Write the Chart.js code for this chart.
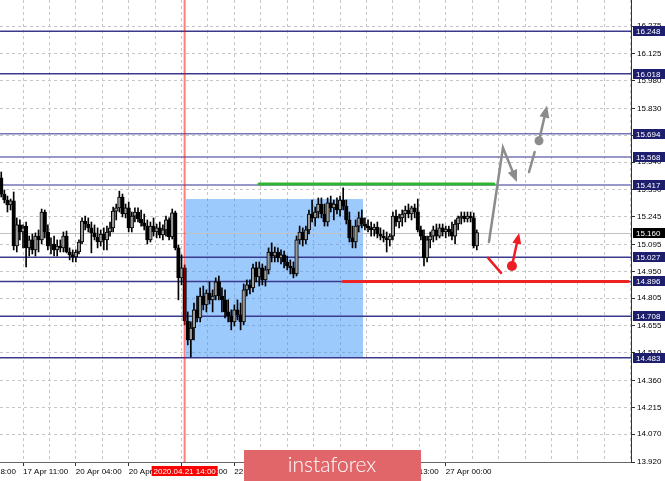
<!DOCTYPE html>
<html>
<head>
<meta charset="utf-8">
<script src="https://cdn.jsdelivr.net/npm/chart.js@4.4.1/dist/chart.umd.min.js"></script>
<style>
  html, body { margin: 0; padding: 0; background: #fff; }
  #wrap { width: 665px; height: 481px; }
</style>
</head>
<body>
<div id="wrap"><canvas id="priceChart" width="665" height="481"></canvas></div>
<script>
// H1 bars, bar 0 = 17 Apr 04:00
const open = [15.455,15.368,15.336,15.309,15.331,15.087,15.201,15.163,15.195,15.077,
  15.120,15.066,15.141,15.120,15.271,15.163,15.087,15.098,15.066,15.087,
  15.077,15.141,15.055,15.039,15.028,15.055,15.109,15.222,15.206,15.185,
  15.158,15.136,15.109,15.152,15.120,15.163,15.185,15.276,15.293,15.352,
  15.260,15.293,15.185,15.249,15.271,15.233,15.212,15.195,15.120,15.195,
  15.163,15.185,15.147,15.174,15.228,15.136,15.266,15.077,14.915,14.969,
  14.682,14.580,14.644,14.742,14.699,14.817,14.769,14.833,14.796,14.817,
  14.893,14.817,14.796,14.731,14.709,14.677,14.742,14.715,14.677,14.850,
  14.877,14.861,14.969,14.920,14.969,14.904,14.958,15.055,15.033,15.055,
  15.023,15.039,15.001,14.979,14.969,14.936,15.120,15.163,15.120,15.174,
  15.260,15.239,15.271,15.314,15.260,15.217,15.320,15.293,15.314,15.282,
  15.336,15.303,15.228,15.131,15.109,15.195,15.239,15.206,15.195,15.185,
  15.174,15.190,15.152,15.141,15.131,15.120,15.141,15.249,15.217,15.239,
  15.260,15.282,15.260,15.293,15.271,15.174,15.141,15.023,15.120,15.141,
  15.174,15.141,15.185,15.163,15.179,15.163,15.141,15.206,15.239,15.249,
  15.233,15.249,15.239,15.087];
const high = [15.487,15.390,15.357,15.341,15.379,15.239,15.228,15.201,15.217,15.141,
  15.152,15.158,15.174,15.287,15.282,15.201,15.131,15.141,15.120,15.120,
  15.163,15.168,15.077,15.066,15.066,15.120,15.239,15.249,15.239,15.217,
  15.201,15.185,15.174,15.185,15.195,15.217,15.298,15.314,15.384,15.368,
  15.314,15.325,15.271,15.293,15.293,15.282,15.260,15.228,15.217,15.239,
  15.206,15.217,15.201,15.249,15.239,15.287,15.276,15.093,15.039,14.985,
  14.731,14.677,14.779,14.817,14.861,14.871,14.850,14.893,14.850,14.915,
  14.925,14.861,14.850,14.796,14.742,14.769,14.796,14.779,14.882,14.904,
  14.904,14.990,15.001,15.001,14.990,14.979,15.077,15.104,15.082,15.077,
  15.066,15.060,15.033,15.012,15.001,15.141,15.195,15.185,15.195,15.282,
  15.336,15.298,15.347,15.347,15.314,15.347,15.357,15.336,15.347,15.357,
  15.401,15.336,15.271,15.195,15.228,15.271,15.282,15.239,15.228,15.217,
  15.206,15.217,15.185,15.174,15.163,15.152,15.271,15.282,15.260,15.282,
  15.303,15.314,15.303,15.314,15.341,15.195,15.174,15.141,15.163,15.195,
  15.206,15.206,15.206,15.195,15.195,15.217,15.228,15.249,15.271,15.271,
  15.271,15.271,15.266,15.174];
const low = [15.352,15.320,15.271,15.282,15.066,15.055,15.120,15.077,14.974,15.033,
  15.044,15.033,15.055,15.098,15.131,15.066,15.044,15.033,15.033,15.055,
  15.055,15.050,15.012,15.001,15.001,15.044,15.098,15.174,15.163,15.050,
  15.120,15.077,15.087,15.066,15.066,15.141,15.163,15.228,15.271,15.244,
  15.239,15.163,15.163,15.217,15.217,15.195,15.174,15.098,15.109,15.141,
  15.131,15.131,15.120,15.141,15.120,15.125,15.066,14.796,14.877,14.661,
  14.553,14.488,14.580,14.677,14.677,14.742,14.731,14.774,14.731,14.796,
  14.796,14.731,14.699,14.677,14.634,14.655,14.688,14.634,14.661,14.817,
  14.828,14.839,14.893,14.871,14.877,14.871,14.936,15.001,15.001,15.001,
  14.990,14.969,14.958,14.936,14.915,14.925,15.098,15.087,15.098,15.152,
  15.217,15.195,15.239,15.239,15.195,15.195,15.271,15.228,15.260,15.249,
  15.282,15.206,15.109,15.077,15.077,15.163,15.185,15.174,15.163,15.141,
  15.141,15.131,15.120,15.109,15.055,15.087,15.120,15.195,15.185,15.195,
  15.217,15.239,15.228,15.239,15.163,15.120,14.979,15.001,15.077,15.109,
  15.120,15.131,15.141,15.131,15.141,15.120,15.098,15.174,15.206,15.217,
  15.217,15.217,15.077,15.066];
const close = [15.368,15.336,15.309,15.331,15.087,15.201,15.163,15.185,15.077,15.120,
  15.066,15.141,15.120,15.271,15.163,15.087,15.098,15.066,15.087,15.077,
  15.141,15.055,15.039,15.028,15.055,15.109,15.222,15.206,15.185,15.158,
  15.136,15.109,15.152,15.120,15.163,15.185,15.276,15.293,15.352,15.260,
  15.293,15.185,15.249,15.271,15.233,15.212,15.195,15.120,15.195,15.163,
  15.185,15.147,15.174,15.228,15.136,15.266,15.077,14.915,14.969,14.682,
  14.580,14.644,14.742,14.699,14.817,14.769,14.833,14.796,14.817,14.893,
  14.817,14.796,14.731,14.709,14.677,14.742,14.715,14.677,14.850,14.877,
  14.861,14.969,14.920,14.969,14.904,14.958,15.055,15.033,15.055,15.023,
  15.039,15.001,14.979,14.969,14.936,15.120,15.163,15.120,15.174,15.260,
  15.239,15.271,15.314,15.260,15.217,15.320,15.293,15.314,15.282,15.336,
  15.303,15.228,15.131,15.109,15.195,15.239,15.206,15.195,15.185,15.174,
  15.190,15.152,15.141,15.131,15.120,15.141,15.249,15.217,15.239,15.260,
  15.282,15.260,15.293,15.271,15.174,15.141,15.023,15.120,15.141,15.174,
  15.141,15.185,15.163,15.179,15.163,15.141,15.206,15.239,15.249,15.233,
  15.249,15.239,15.087,15.160];

const priceTicks = [13.920,14.070,14.215,14.360,14.510,14.655,14.805,14.950,15.095,
  15.245,15.390,15.540,15.685,15.830,15.980,16.125,16.275];
const timeTicks = [-10, 7, 24, 41, 58, 75, 92, 109, 126, 143];
const timeLabels = ["16 Apr 18:00","17 Apr 11:00","20 Apr 04:00","20 Apr 21:00","21 Apr 14:00",
  "22 Apr 07:00","23 Apr 00:00","23 Apr 17:00","24 Apr 13:00","27 Apr 00:00"];

const levels = [16.248, 16.018, 15.694, 15.568, 15.417, 15.027, 14.896, 14.708, 14.483];
const currentPrice = 15.160;
const markerBar = 59;
const markerLabel = "2020.04.21 14:00";
const zoneBars = [59.4, 116.4];
const zonePrices = [14.483, 15.341];
const greenBars = [82.9, 158.5];
const greenPrice = 15.422;
const redBars = [110, 201.7];
const redPrice = 14.896;
const grayPath = [[156.9, 15.109], [161.4, 15.618], [165.9, 15.433]];
const grayDash = [[169.8, 15.487], [171.6, 15.595]];
const grayPivot = [[173.0, 15.656], [175.6, 15.846]];
const redPath = [[156.6, 15.023], [160.8, 14.942]];
const redPivot = [[164.3, 14.979], [166.6, 15.158]];

const wicks = open.map((o, i) => ({ x: i, y: [low[i], high[i]] }));
const bodies = open.map((o, i) => ({ x: i, y: [o, close[i]] }));

// vertical grid every half label step
const xGrid = [-10];
for (let v = -1.5; v <= 202.6; v += 8.5) xGrid.push(v);

const FONT = { family: "Liberation Sans", size: 8 };

function arrowHead(ctx, x0, y0, x1, y1, len, half) {
  const a = Math.atan2(y1 - y0, x1 - x0);
  const bx = x1 - len * Math.cos(a), by = y1 - len * Math.sin(a);
  ctx.beginPath();
  ctx.moveTo(x1, y1);
  ctx.lineTo(bx + half * Math.sin(a), by - half * Math.cos(a));
  ctx.lineTo(bx - half * Math.sin(a), by + half * Math.cos(a));
  ctx.closePath();
  ctx.fill();
}

const overlay = {
  id: "overlay",
  beforeDatasetsDraw(chart) {
    const { ctx, chartArea: a, scales: { x, y } } = chart;
    ctx.save();
    // blue zone
    const zx0 = x.getPixelForValue(zoneBars[0]), zx1 = x.getPixelForValue(zoneBars[1]);
    const zyTop = y.getPixelForValue(zonePrices[1]), zyBot = y.getPixelForValue(zonePrices[0]);
    ctx.fillStyle = "rgba(60,150,250,0.5)";
    ctx.fillRect(zx0, zyTop, zx1 - zx0, zyBot - zyTop);
    // bid line
    ctx.strokeStyle = "#c2c2c2";
    ctx.lineWidth = 1;
    let py = Math.round(y.getPixelForValue(currentPrice)) + 0.5;
    ctx.beginPath(); ctx.moveTo(a.left, py); ctx.lineTo(a.right, py); ctx.stroke();
    // levels
    ctx.lineWidth = 1.5;
    levels.forEach((p, i) => {
      ctx.strokeStyle = (i === 2 || i === 3 || i === 4) ? "#7676b4" : "#3a3a8c";
      const ly = y.getPixelForValue(p);
      ctx.beginPath(); ctx.moveTo(a.left, ly); ctx.lineTo(a.right, ly); ctx.stroke();
    });
    ctx.restore();
  },
  afterDatasetsDraw(chart) {
    const { ctx, chartArea: a, scales: { x, y } } = chart;
    const P = pt => [x.getPixelForValue(pt[0]), y.getPixelForValue(pt[1])];
    ctx.save();
    ctx.lineCap = "round";
    // green and red segments
    ctx.lineWidth = 3;
    ctx.strokeStyle = "#2fb52f";
    let gy = y.getPixelForValue(greenPrice);
    ctx.beginPath(); ctx.moveTo(x.getPixelForValue(greenBars[0]), gy); ctx.lineTo(x.getPixelForValue(greenBars[1]), gy); ctx.stroke();
    ctx.strokeStyle = "#ee2222";
    let ry = y.getPixelForValue(redPrice);
    ctx.beginPath(); ctx.moveTo(x.getPixelForValue(redBars[0]), ry); ctx.lineTo(x.getPixelForValue(redBars[1]), ry); ctx.stroke();
    // vertical marker
    ctx.lineCap = "butt";
    ctx.strokeStyle = "rgba(255,0,0,0.5)";
    ctx.lineWidth = 2;
    const mx = x.getPixelForValue(markerBar);
    ctx.beginPath(); ctx.moveTo(mx, a.top); ctx.lineTo(mx, a.bottom); ctx.stroke();

    // gray scenario
    ctx.lineCap = "round";
    ctx.strokeStyle = "#8c8c8c";
    ctx.fillStyle = "#8c8c8c";
    ctx.lineWidth = 2.5;
    let g = grayPath.map(P);
    ctx.beginPath(); ctx.moveTo(g[0][0], g[0][1]); ctx.lineTo(g[1][0], g[1][1]);
    const a1 = Math.atan2(g[2][1] - g[1][1], g[2][0] - g[1][0]);
    ctx.lineTo(g[2][0] - 8 * Math.cos(a1), g[2][1] - 8 * Math.sin(a1)); ctx.stroke();
    arrowHead(ctx, g[1][0], g[1][1], g[2][0], g[2][1], 12, 5);
    let d = grayDash.map(P);
    ctx.beginPath(); ctx.moveTo(d[0][0], d[0][1]); ctx.lineTo(d[1][0], d[1][1]); ctx.stroke();
    let gp = grayPivot.map(P);
    const a2 = Math.atan2(gp[1][1] - gp[0][1], gp[1][0] - gp[0][0]);
    ctx.beginPath(); ctx.moveTo(gp[0][0], gp[0][1]);
    ctx.lineTo(gp[1][0] - 8 * Math.cos(a2), gp[1][1] - 8 * Math.sin(a2)); ctx.stroke();
    arrowHead(ctx, gp[0][0], gp[0][1], gp[1][0], gp[1][1], 12, 5);
    ctx.beginPath(); ctx.arc(gp[0][0], gp[0][1], 4.5, 0, Math.PI * 2); ctx.fill();

    // red scenario
    ctx.strokeStyle = "#ee1c25";
    ctx.fillStyle = "#ee1c25";
    let r = redPath.map(P);
    ctx.beginPath(); ctx.moveTo(r[0][0], r[0][1]); ctx.lineTo(r[1][0], r[1][1]); ctx.stroke();
    let rp = redPivot.map(P);
    const a3 = Math.atan2(rp[1][1] - rp[0][1], rp[1][0] - rp[0][0]);
    ctx.beginPath(); ctx.moveTo(rp[0][0], rp[0][1]);
    ctx.lineTo(rp[1][0] - 8 * Math.cos(a3), rp[1][1] - 8 * Math.sin(a3)); ctx.stroke();
    arrowHead(ctx, rp[0][0], rp[0][1], rp[1][0], rp[1][1], 11, 4.5);
    ctx.beginPath(); ctx.arc(rp[0][0], rp[0][1], 5, 0, Math.PI * 2); ctx.fill();
    ctx.restore();
  },
  afterDraw(chart) {
    const { ctx, chartArea: a, scales: { x, y } } = chart;
    ctx.save();
    ctx.font = "8px 'Liberation Sans'";
    ctx.textBaseline = "middle";
    ctx.textAlign = "left";
    // price tags on the right scale
    const tag = (p, bg) => {
      const ty = Math.round(y.getPixelForValue(p));
      ctx.fillStyle = bg;
      ctx.fillRect(a.right + 2, ty - 5, 33, 10);
      ctx.fillStyle = "#ffffff";
      ctx.fillText(p.toFixed(3), a.right + 5, ty + 0.5);
    };
    levels.forEach(p => tag(p, "#1e1e6e"));
    tag(currentPrice, "#000000");
    // time marker tag
    const mx = x.getPixelForValue(markerBar);
    ctx.fillStyle = "#ff0000";
    ctx.fillRect(mx - 33, a.bottom + 4, 66, 10);
    ctx.fillStyle = "#ffffff";
    ctx.textAlign = "center";
    ctx.fillText(markerLabel, mx, a.bottom + 9.5);
    // banner
    ctx.fillStyle = "#e0666a";
    ctx.fillRect(244, 450, 177, 31);
    ctx.fillStyle = "#ffffff";
    ctx.font = "300 21px Lato";
    ctx.fillText("instaforex", 332, 465);
    ctx.restore();
  }
};

new Chart(document.getElementById("priceChart"), {
  type: "bar",
  data: {
    datasets: [
      {
        data: wicks,
        backgroundColor: "#000",
        barThickness: 1,
        grouped: false,
        order: 2,
      },
      {
        data: bodies,
        backgroundColor: c => close[c.dataIndex] >= open[c.dataIndex] ? "#9a9a9a" : "#000",
        borderColor: "#000",
        borderWidth: 1,
        borderSkipped: false,
        barThickness: 3.6,
        minBarLength: 1,
        grouped: false,
        order: 1,
      },
    ],
  },
  options: {
    responsive: false,
    animation: false,
    layout: { padding: 0 },
    plugins: { legend: { display: false }, tooltip: { enabled: false } },
    scales: {
      x: {
        type: "linear",
        min: -0.4,
        max: 202.6,
        offset: false,
        afterBuildTicks: s => { s.ticks = xGrid.map(v => ({ value: v })); },
        afterFit: s => { s.height = 19; s.paddingLeft = 0; s.paddingRight = 0; },
        grid: {
          offset: false,
          color: "#c6c6c6",
          tickLength: 4,
          tickColor: c => (c.tick && timeTicks.includes(c.tick.value)) ? "#333" : "rgba(0,0,0,0)",
          tickBorderDash: [],
        },
        border: { display: true, color: "#666", width: 1, dash: [3, 3] },
        ticks: {
          autoSkip: false,
          maxRotation: 0,
          align: "start",
          padding: 1,
          color: "#000",
          font: FONT,
          callback: v => { const k = timeTicks.indexOf(v); return k < 0 ? "" : timeLabels[k]; },
        },
      },
      y: {
        position: "right",
        min: 13.92,
        max: 16.4166,
        beginAtZero: false,
        afterBuildTicks: s => { s.ticks = priceTicks.map(v => ({ value: v })); },
        afterFit: s => { s.width = 34; s.paddingTop = 0; s.paddingBottom = 0; },
        grid: { color: "#c6c6c6", tickLength: 4, tickColor: "#333", tickBorderDash: [] },
        border: { display: true, color: "#333", width: 1, dash: [3, 3] },
        ticks: { padding: 2, color: "#000", font: FONT, callback: v => v.toFixed(3) },
      },
    },
  },
  plugins: [overlay],
});
</script>
</body>
</html>
